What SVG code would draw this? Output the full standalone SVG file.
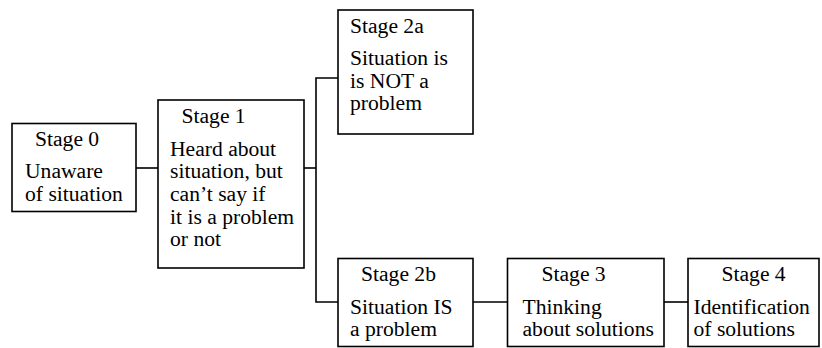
<svg xmlns="http://www.w3.org/2000/svg" width="822" height="348" viewBox="0 0 822 348">
<style>
.box{fill:#fff;stroke:#000;stroke-width:1.6}
.ln{fill:none;stroke:#000;stroke-width:1.6}
.t{font-family:'Liberation Serif','Times New Roman',Times,serif;font-size:21.6px;fill:#000}
</style>
<rect width="822" height="348" fill="#fff"/>
<g id="connectors">
<path class="ln" d="M136 168H158"/>
<path class="ln" d="M304 168H316"/>
<path class="ln" d="M338 78H316V302H338"/>
<path class="ln" d="M473 302H507"/>
<path class="ln" d="M664 302H688"/>
</g>
<g id="stage0" class="t">
<rect class="box" x="12" y="123.5" width="124" height="88"/>
<text x="35" y="146">Stage 0</text>
<text x="25" y="178">Unaware</text>
<text x="25" y="200.5">of situation</text>
</g>
<g id="stage1" class="t">
<rect class="box" x="158" y="100" width="146" height="168"/>
<text x="181.5" y="123">Stage 1</text>
<text x="170" y="155.5">Heard about</text>
<text x="170" y="178.3">situation, but</text>
<text x="170" y="201">can’t say if</text>
<text x="170" y="223.5">it is a problem</text>
<text x="170" y="246">or not</text>
</g>
<g id="stage2a" class="t">
<rect class="box" x="338" y="10" width="135" height="124"/>
<text x="350" y="33">Stage 2a</text>
<text x="350" y="65">Situation is</text>
<text x="350" y="88">is NOT a</text>
<text x="350" y="110">problem</text>
</g>
<g id="stage2b" class="t">
<rect class="box" x="338" y="258.5" width="135" height="88"/>
<text x="361" y="280.5">Stage 2b</text>
<text x="350" y="313.5">Situation IS</text>
<text x="350" y="336">a problem</text>
</g>
<g id="stage3" class="t">
<rect class="box" x="507.5" y="258.5" width="156.5" height="88"/>
<text x="541.5" y="280.5">Stage 3</text>
<text x="522.5" y="313.5">Thinking</text>
<text x="522.5" y="336">about solutions</text>
</g>
<g id="stage4" class="t">
<rect class="box" x="688" y="258.5" width="131" height="88"/>
<text x="721.5" y="280.5">Stage 4</text>
<text x="693.5" y="313.5">Identification</text>
<text x="693.5" y="336">of solutions</text>
</g>
</svg>
